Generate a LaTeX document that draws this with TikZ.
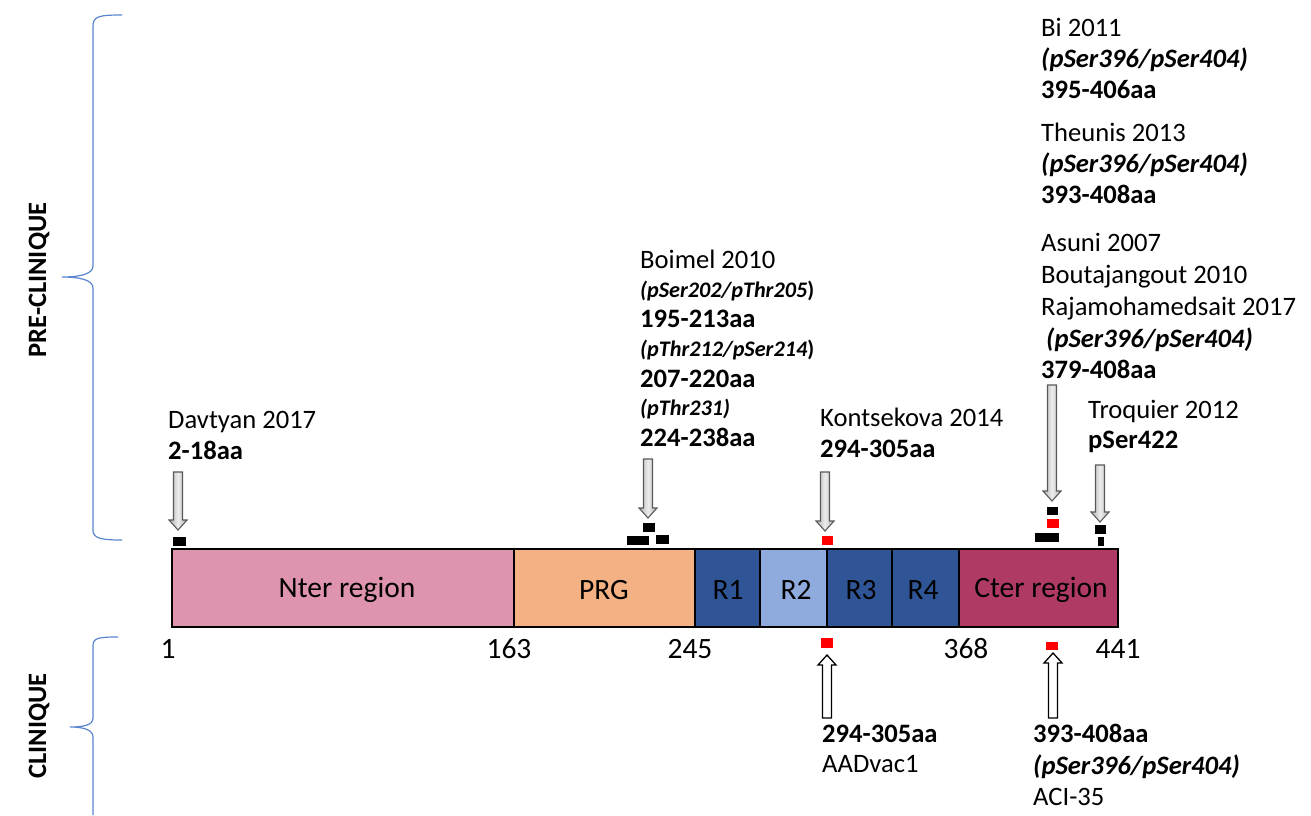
\documentclass[tikz,border=0pt]{standalone}
\usepackage{fontspec}
\setmainfont{Carlito}
\definecolor{nterc}{HTML}{DE94AE}
\definecolor{prgc}{HTML}{F4B183}
\definecolor{rdark}{HTML}{2F5597}
\definecolor{rlight}{HTML}{8FAADC}
\definecolor{cterc}{HTML}{B03A66}
\definecolor{bracec}{HTML}{5B86D0}
\definecolor{arrline}{HTML}{595959}
\newcommand\DownArr[3]{%
  \draw[darr] (#1-4.5,#2) -- (#1+4.5,#2) -- (#1+4.5,#3-10) -- (#1+9,#3-10) -- (#1,#3)
    -- (#1-9,#3-10) -- (#1-4.5,#3-10) -- cycle;}
\newcommand\UpArr[3]{%
  \draw[uarr] (#1-4.5,#2) -- (#1+4.5,#2) -- (#1+4.5,#3+10) -- (#1+9,#3+10) -- (#1,#3)
    -- (#1-9,#3+10) -- (#1-4.5,#3+10) -- cycle;}
\tikzset{
  lbl/.style={inner sep=0pt, anchor=base west, font=\fontsize{26.6}{31}\selectfont},
  sml/.style={inner sep=0pt, anchor=base west, font=\fontsize{22.2}{26}\selectfont\bfseries},
  num/.style={inner sep=0pt, anchor=base, font=\fontsize{29.5}{34}\selectfont},
  segtxt/.style={inner sep=0pt, font=\fontsize{29.5}{34}\selectfont},
  side/.style={inner sep=0pt, rotate=90, font=\fontsize{26.5}{31}\selectfont\bfseries},
  seg/.style={draw=black, line width=1.3pt},
  blk/.style={fill=black},
  redm/.style={fill=red},
  darr/.style={draw=arrline, line width=1.1pt, left color=gray!60, right color=gray!60, middle color=gray!15},
  uarr/.style={draw=black, fill=white, line width=1.3pt},
  bracestyle/.style={draw=bracec, line width=1.2pt},
}
\begin{document}
\begin{tikzpicture}[x=1pt,y=-1pt]
\useasboundingbox (0,0) rectangle (1311,815);

% braces
\draw[bracestyle] (122,15) .. controls (100,15) and (93,16) .. (93,26) -- (93,266)
  .. controls (93,274) and (80,277) .. (62,277)
  .. controls (80,277) and (93,280) .. (93,288) -- (93,530)
  .. controls (93,538) and (100,540) .. (122,540);
\draw[bracestyle] (118,637) .. controls (98,637) and (93,638) .. (93,646) -- (93,718)
  .. controls (93,725) and (84,727) .. (70,727)
  .. controls (84,727) and (93,730) .. (93,737) -- (93,815);
\node[side] (pre) at (39,280) {PRE-CLINIQUE};
\node[side] (cli) at (39,726) {CLINIQUE};

% bar segments
\filldraw[seg, fill=nterc] (172,549) rectangle (514,627);
\filldraw[seg, fill=prgc] (514,549) rectangle (695,627);
\filldraw[seg, fill=rdark] (695,549) rectangle (760,627);
\filldraw[seg, fill=rlight] (760,549) rectangle (827,627);
\filldraw[seg, fill=rdark] (827,549) rectangle (892,627);
\filldraw[seg, fill=rdark] (892,549) rectangle (959,627);
\filldraw[seg, fill=cterc] (959,549) rectangle (1118,627);
\draw[line width=2.4pt] (172,549) rectangle (1118,627);
\node[segtxt] (tnter) at (347,590) {Nter region};
\node[segtxt] (tprg) at (604,590) {PRG};
\node[segtxt] (tr1) at (728,590) {R1};
\node[segtxt] (tr2) at (796,590) {R2};
\node[segtxt] (tr3) at (861,590) {R3};
\node[segtxt] (tr4) at (923,590) {R4};
\node[segtxt] (tcter) at (1041,590) {Cter region};

% axis numbers
\node[num] (n1) at (168,658) {1};
\node[num] (n163) at (509,658) {163};
\node[num] (n245) at (690,658) {245};
\node[num] (n368) at (966,658) {368};
\node[num] (n441) at (1118,658) {441};

% markers
\fill[blk] (173,537) rectangle (186,546);
\fill[blk] (643,523) rectangle (655,532);
\fill[blk] (627,536) rectangle (649,545);
\fill[blk] (656,535) rectangle (669,544);
\fill[redm] (822,536) rectangle (833,545);
\fill[blk] (1047,507) rectangle (1058,515);
\fill[redm] (1047,519) rectangle (1059,528);
\fill[blk] (1035,533) rectangle (1059,542);
\fill[blk] (1095,525) rectangle (1106,534);
\fill[blk] (1098,537) rectangle (1104,546);
\fill[redm] (821,638) rectangle (833,648);
\fill[redm] (1046,642) rectangle (1058,650);

% arrows
\DownArr{178}{472}{530}
\DownArr{648}{459}{518}
\DownArr{825}{472}{531}
\DownArr{1052}{385}{501}
\DownArr{1100}{465}{522}
\UpArr{827}{718}{655}
\UpArr{1053}{718}{653}

% Davtyan
\node[lbl] (dav1) at (168,428) {Davtyan 2017};
\node[lbl] (dav2) at (168,459) {\bfseries 2-18aa};
% Boimel
\node[lbl] (boi1) at (640,268) {Boimel 2010};
\node[sml] (boi2) at (640,297) {{\itshape (pSer202/pThr205})};
\node[lbl] (boi3) at (640,327) {\bfseries 195-213aa};
\node[sml] (boi4) at (640,356) {{\itshape (pThr212/pSer214})};
\node[lbl] (boi5) at (640,387) {\bfseries 207-220aa};
\node[sml] (boi6) at (640,415) {\itshape (pThr231)};
\node[lbl] (boi7) at (640,446) {\bfseries 224-238aa};
% Kontsekova
\node[lbl] (kon1) at (820,426) {Kontsekova 2014};
\node[lbl] (kon2) at (820,457) {\bfseries 294-305aa};
% Troquier
\node[lbl] (tro1) at (1088,418) {Troquier 2012};
\node[lbl] (tro2) at (1088,448) {\bfseries pSer422};
% Bi
\node[lbl] (bi1) at (1041,36) {Bi 2011};
\node[lbl] (bi2) at (1041,67) {\bfseries\itshape (pSer396/pSer404)};
\node[lbl] (bi3) at (1041,98) {\bfseries 395-406aa};
% Theunis
\node[lbl] (the1) at (1041,141) {Theunis 2013};
\node[lbl] (the2) at (1041,172) {\bfseries\itshape (pSer396/pSer404)};
\node[lbl] (the3) at (1041,203) {\bfseries 393-408aa};
% Asuni
\node[lbl] (asu1) at (1041,251) {Asuni 2007};
\node[lbl] (asu2) at (1041,283) {Boutajangout 2010};
\node[lbl] (asu3) at (1041,315) {Rajamohamedsait 2017};
\node[lbl] (asu4) at (1046,347) {\bfseries\itshape (pSer396/pSer404)};
\node[lbl] (asu5) at (1041,378) {\bfseries 379-408aa};
% clinical
\node[lbl] (aad1) at (822,742) {\bfseries 294-305aa};
\node[lbl] (aad2) at (822,772) {AADvac1};
\node[lbl] (aci1) at (1033,742) {\bfseries 393-408aa};
\node[lbl] (aci2) at (1033,774) {\bfseries\itshape (pSer396/pSer404)};
\node[lbl] (aci3) at (1033,805) {ACI-35};
\end{tikzpicture}
\end{document}
